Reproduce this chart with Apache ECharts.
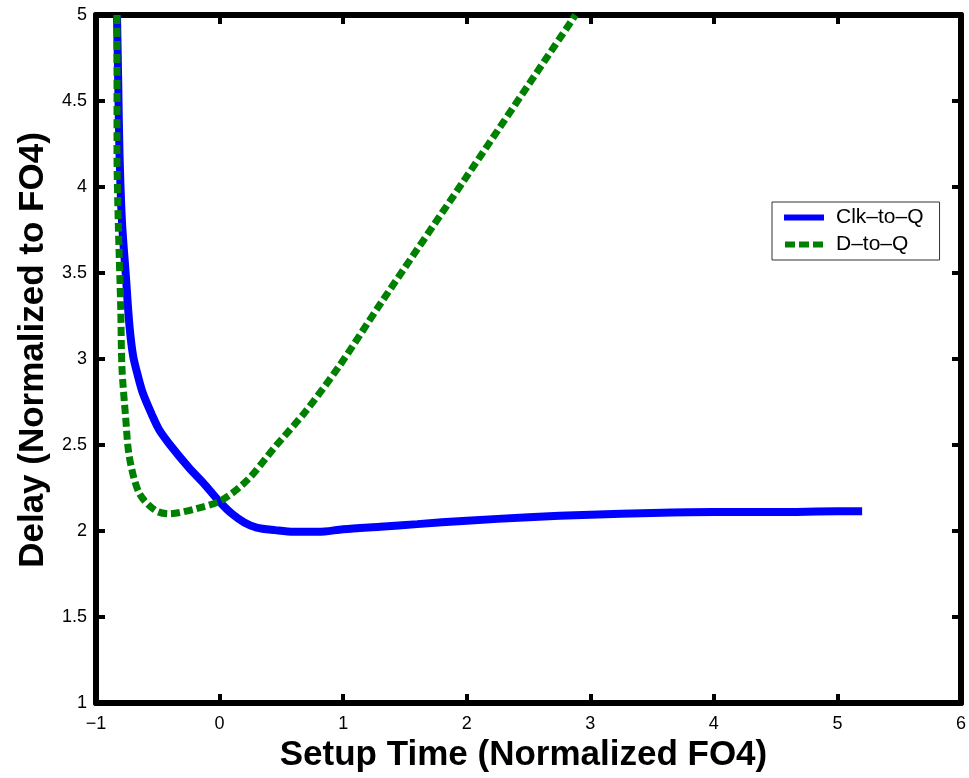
<!DOCTYPE html>
<html>
<head>
<meta charset="utf-8">
<title>Delay vs Setup Time</title>
<script src="https://cdn.jsdelivr.net/npm/echarts@6/dist/echarts.min.js"></script>
<style>
  html, body { margin: 0; padding: 0; background: #fff; }
  #chart { width: 969px; height: 778px; }
</style>
</head>
<body>
<div id="chart"></div>
<script>
// 数据：点 [setup time, delay]
const clkToQ = [
  [-0.83, 5.0], [-0.82, 4.6], [-0.81, 4.2], [-0.79, 3.8], [-0.76, 3.5],
  [-0.73, 3.2], [-0.7, 3.02], [-0.66, 2.9], [-0.62, 2.8], [-0.55, 2.68],
  [-0.49, 2.59], [-0.4, 2.5], [-0.25, 2.37], [-0.12, 2.27], [0, 2.17],
  [0.1, 2.1], [0.2, 2.05], [0.3, 2.02], [0.45, 2.005], [0.6, 1.995],
  [0.8, 1.995], [1.0, 2.01], [1.3, 2.025], [1.6, 2.04], [2.0, 2.06],
  [2.5, 2.08], [3.0, 2.095], [3.5, 2.105], [4.0, 2.11], [4.5, 2.11],
  [5.0, 2.115], [5.2, 2.115]
]
const dToQ = [
  [-0.83, 5.0], [-0.83, 4.2], [-0.82, 3.8], [-0.8, 3.3], [-0.79, 2.95],
  [-0.76, 2.66], [-0.73, 2.43], [-0.65, 2.22], [-0.52, 2.12], [-0.41, 2.1],
  [-0.19, 2.13], [0.02, 2.18], [0.23, 2.3], [0.45, 2.49], [0.69, 2.69],
  [0.96, 2.95], [1.31, 3.33], [1.98, 4.04], [2.88, 5.0]
]
const seriesNames = ['Clk\u2013to\u2013Q', 'D\u2013to\u2013Q']
const xRange = [-1, 6]
const yRange = [1, 5]
const xTitle = 'Setup Time (Normalized FO4)'
const yTitle = 'Delay (Normalized to FO4)'

const FONT = '"Liberation Sans", Arial, sans-serif'
const AXIS_LINE = { show: true, onZero: false, lineStyle: { color: '#000', width: 6 } }
const AXIS_TICK = { show: true, inside: true, length: 9, lineStyle: { color: '#000', width: 4 } }
const TICK_LABEL = { color: '#000', fontSize: 18, fontFamily: FONT }
const NAME_STYLE = { color: '#000', fontSize: 35, fontWeight: 'bold', fontFamily: FONT }

// 图例图标：实线 / 三段虚线
const ICON_SOLID = 'path://M0,0H40V6H0Z'
const ICON_DASH = 'path://M0,0H10V6H0Z M14,0H24V6H14Z M28,0H38V6H28Z'

// 主轴 + 镜像轴（上、右）组成外框
function xAxis (position) {
  const main = position === 'bottom'
  return {
    type: 'value',
    position,
    min: xRange[0],
    max: xRange[1],
    interval: 1,
    axisLine: AXIS_LINE,
    axisTick: AXIS_TICK,
    splitLine: { show: false },
    axisLabel: main
      ? { ...TICK_LABEL, margin: 12, formatter: v => String(v).replace('-', '\u2212') }
      : { show: false },
    name: main ? xTitle : '',
    nameLocation: 'middle',
    nameGap: 29,
    nameTextStyle: { ...NAME_STYLE, padding: [0, 10, 0, 0] }
  }
}

function yAxis (position) {
  const main = position === 'left'
  return {
    type: 'value',
    position,
    min: yRange[0],
    max: yRange[1],
    interval: 0.5,
    axisLine: AXIS_LINE,
    axisTick: AXIS_TICK,
    splitLine: { show: false },
    axisLabel: main ? { ...TICK_LABEL, margin: 9 } : { show: false },
    name: main ? yTitle : '',
    nameLocation: 'middle',
    nameGap: 44,
    nameTextStyle: { ...NAME_STYLE, padding: [0, 0, 0, 18] }
  }
}

const chart = echarts.init(document.getElementById('chart'), null, { renderer: 'canvas' })

chart.setOption({
  animation: false,
  backgroundColor: '#fff',
  grid: { left: 96, right: 3, top: 15, bottom: 75, containLabel: false },
  xAxis: [xAxis('bottom'), xAxis('top')],
  yAxis: [yAxis('left'), yAxis('right')],
  legend: {
    left: 772,
    top: 202,
    orient: 'vertical',
    itemWidth: 40,
    itemHeight: 6,
    itemGap: 6,
    padding: [5, 16, 5, 12],
    borderColor: '#333',
    borderWidth: 1,
    backgroundColor: '#fff',
    itemStyle: { borderWidth: 0 },
    textStyle: { color: '#000', fontSize: 21, lineHeight: 21, fontFamily: FONT, padding: [0, 0, 0, 7] },
    data: [
      { name: seriesNames[0], icon: ICON_SOLID },
      { name: seriesNames[1], icon: ICON_DASH }
    ]
  },
  series: [
    {
      name: seriesNames[0],
      type: 'line',
      data: clkToQ,
      showSymbol: false,
      symbol: 'none',
      smooth: 0.3,
      clip: true,
      color: '#0000ff',
      lineStyle: { color: '#0000ff', width: 8 }
    },
    {
      name: seriesNames[1],
      type: 'line',
      data: dToQ,
      showSymbol: false,
      symbol: 'none',
      smooth: 0.3,
      clip: true,
      color: '#008000',
      lineStyle: { color: '#008000', width: 7, type: [9, 4] }
    }
  ]
})
</script>
</body>
</html>
